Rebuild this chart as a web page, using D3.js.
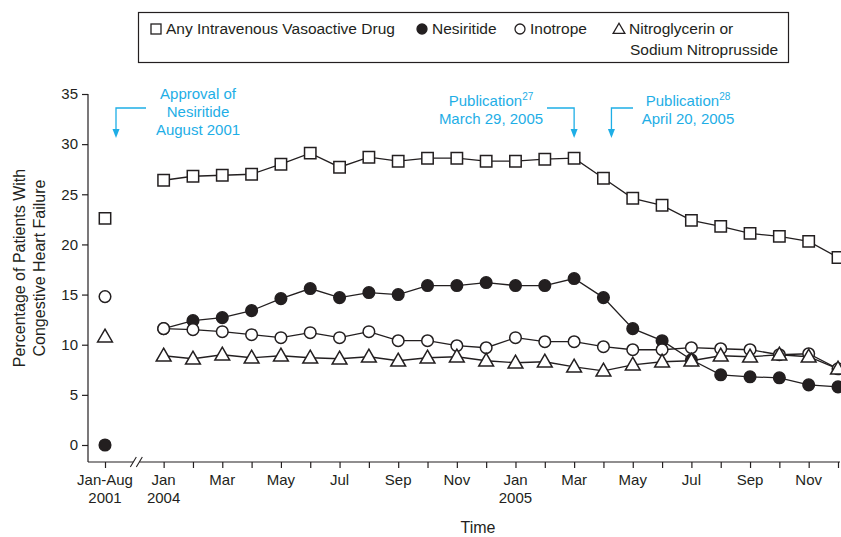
<!DOCTYPE html>
<html>
<head>
<meta charset="utf-8">
<script src="https://cdn.jsdelivr.net/npm/d3@7"></script>
<style>
  body { margin: 0; background: #fff; }
  svg { font-family: "Liberation Sans", Arial, sans-serif; }
</style>
</head>
<body>
<div id="chart"></div>
<script>
// months: index -2 is the Jan-Aug 2001 baseline, 0..23 = Jan 2004 .. Dec 2005
var baseIdx = -2;
var months = d3.range(0, 24);

var tickLabels = ["Jan", "", "Mar", "", "May", "", "Jul", "", "Sep", "", "Nov", "",
                  "Jan", "", "Mar", "", "May", "", "Jul", "", "Sep", "", "Nov", ""];
var yearLabels = {0: "2004", 12: "2005"};

var seriesNames = ["Any Intravenous Vasoactive Drug", "Nesiritide", "Inotrope", "Nitroglycerin or Sodium Nitroprusside"];

// baseline value (Jan-Aug 2001) then monthly values
var anyIV = [22.6,
  26.4, 26.8, 26.9, 27.0, 28.0, 29.1, 27.7, 28.7, 28.3, 28.6, 28.6, 28.3,
  28.3, 28.5, 28.6, 26.6, 24.6, 23.9, 22.4, 21.8, 21.1, 20.8, 20.3, 18.7];
var nesiritide = [0,
  11.6, 12.4, 12.7, 13.4, 14.6, 15.6, 14.7, 15.2, 15.0, 15.9, 15.9, 16.2,
  15.9, 15.9, 16.6, 14.7, 11.6, 10.4, 8.5, 7.0, 6.8, 6.7, 6.0, 5.8];
var inotrope = [14.8,
  11.6, 11.5, 11.3, 11.0, 10.7, 11.2, 10.7, 11.3, 10.4, 10.4, 9.9, 9.7,
  10.7, 10.3, 10.3, 9.8, 9.5, 9.5, 9.7, 9.6, 9.5, 9.0, 9.1, 7.6];
var nitro = [10.8,
  8.9, 8.6, 9.0, 8.7, 8.9, 8.7, 8.6, 8.8, 8.4, 8.7, 8.8, 8.4,
  8.2, 8.3, 7.8, 7.4, 8.0, 8.3, 8.4, 8.9, 8.8, 9.0, 8.8, 7.6];

var yTicks = [0, 5, 10, 15, 20, 25, 30, 35];

var w = 841, h = 537;
var blue = "#1eaee6";

var svg = d3.select("#chart").append("svg")
  .attr("width", w)
  .attr("height", h);

var x = d3.scaleLinear().domain([baseIdx, 23]).range([105, 838]);
var y = d3.scaleLinear().domain([0, 35]).range([445, 94]);
var axisY = 462, axisX = 88;

// y axis
var yAxis = svg.append("g")
  .attr("transform", "translate(" + axisX + ",0)")
  .call(d3.axisLeft(y).tickValues(yTicks).tickSize(6).tickSizeOuter(0).tickPadding(4));
yAxis.select(".domain").remove();
yAxis.selectAll("line").attr("stroke", "#231f20").attr("stroke-width", 1.2);
yAxis.selectAll("text").attr("font-size", 15).attr("fill", "#231f20")
  .attr("font-family", "Liberation Sans, Arial, sans-serif");
svg.append("line")
  .attr("x1", axisX).attr("x2", axisX)
  .attr("y1", y(35)).attr("y2", axisY)
  .attr("stroke", "#231f20").attr("stroke-width", 1.2);

// x axis
var xAxis = svg.append("g")
  .attr("transform", "translate(0," + axisY + ")")
  .call(d3.axisBottom(x).tickValues([baseIdx].concat(months)).tickSize(6).tickSizeOuter(0).tickFormat(""));
xAxis.select(".domain").remove();
xAxis.selectAll("line").attr("stroke", "#231f20").attr("stroke-width", 1.2);
svg.append("line")
  .attr("x1", axisX).attr("x2", 840)
  .attr("y1", axisY).attr("y2", axisY)
  .attr("stroke", "#231f20").attr("stroke-width", 1.2);

// axis break
var bx = (x(baseIdx) + x(0)) / 2 + 3;
svg.append("rect").attr("x", bx - 4).attr("y", axisY - 2).attr("width", 6).attr("height", 4).attr("fill", "#fff");
[-3, 3].forEach(function(o) {
  svg.append("line")
    .attr("x1", bx + o - 4).attr("y1", axisY + 5)
    .attr("x2", bx + o + 2).attr("y2", axisY - 5)
    .attr("stroke", "#231f20").attr("stroke-width", 1.1);
});

// x tick labels
var xl = svg.append("g").attr("font-size", 15).attr("fill", "#231f20").attr("text-anchor", "middle");
xl.append("text").attr("x", x(baseIdx)).attr("y", axisY + 23).text("Jan-Aug");
xl.append("text").attr("x", x(baseIdx)).attr("y", axisY + 41).text("2001");
months.forEach(function(m) {
  if (tickLabels[m]) xl.append("text").attr("x", x(m)).attr("y", axisY + 23).text(tickLabels[m]);
  if (yearLabels[m]) xl.append("text").attr("x", x(m)).attr("y", axisY + 41).text(yearLabels[m]);
});

// axis titles
svg.append("text").attr("x", 478).attr("y", 533).attr("text-anchor", "middle")
  .attr("font-size", 16).attr("fill", "#231f20").text("Time");
var yt = svg.append("text").attr("transform", "translate(0,268) rotate(-90)")
  .attr("text-anchor", "middle").attr("font-size", 16).attr("fill", "#231f20");
yt.append("tspan").attr("x", 0).attr("y", 25).text("Percentage of Patients With");
yt.append("tspan").attr("x", 0).attr("y", 45).text("Congestive Heart Failure");

// annotations
function annot(lines, tx, ty, ax, hx) {
  var t = svg.append("text").attr("text-anchor", "middle").attr("font-size", 15).attr("fill", blue);
  lines.forEach(function(l, i) {
    var ts = t.append("tspan").attr("x", tx).attr("y", ty + i * 18);
    ts.text(l[0]);
    if (l[1]) ts.append("tspan").attr("dy", -6).attr("font-size", 10).text(l[1]);
  });
  svg.append("path")
    .attr("d", "M" + hx + ",108H" + ax + "V132")
    .attr("fill", "none").attr("stroke", blue).attr("stroke-width", 1.3);
  svg.append("path")
    .attr("d", "M" + (ax - 3.5) + ",129L" + (ax + 3.5) + ",129L" + ax + ",138Z")
    .attr("fill", blue);
}
annot([["Approval of"], ["Nesiritide"], ["August 2001"]], 198, 99, 116, 146);
annot([["Publication", "27"], ["March 29, 2005"]], 491, 106, x(14), 547);
annot([["Publication", "28"], ["April 20, 2005"]], 688, 106, x(15) + 8, 633);

// series
var symSquare = d3.symbol().type(d3.symbolSquare).size(130);
var symTri = d3.symbol().type(d3.symbolTriangle).size(95);
var series = [
  {vals: anyIV, shape: "square", fill: "#fff"},
  {vals: nesiritide, shape: "circle", fill: "#231f20"},
  {vals: inotrope, shape: "circle", fill: "#fff"},
  {vals: nitro, shape: "triangle", fill: "#fff"}
];

var line = d3.line().x(function(d) { return x(d.i); }).y(function(d) { return y(d.v); });

series.forEach(function(s) {
  var pts = s.vals.map(function(v, k) { return {i: k === 0 ? baseIdx : k - 1, v: v}; });
  svg.append("path")
    .datum(pts.slice(1))
    .attr("d", line)
    .attr("fill", "none").attr("stroke", "#231f20").attr("stroke-width", 1.3);
});

series.forEach(function(s) {
  var pts = s.vals.map(function(v, k) { return {i: k === 0 ? baseIdx : k - 1, v: v}; });
  var g = svg.append("g");
  pts.forEach(function(p) {
    var cx = x(p.i), cy = y(p.v);
    if (s.shape === "circle") {
      g.append("circle").attr("cx", cx).attr("cy", cy).attr("r", 5.8)
        .attr("fill", s.fill).attr("stroke", "#231f20").attr("stroke-width", 1.5);
    } else if (s.shape === "square") {
      g.append("path").attr("d", symSquare()).attr("transform", "translate(" + cx + "," + cy + ")")
        .attr("fill", s.fill).attr("stroke", "#231f20").attr("stroke-width", 1.5);
    } else {
      g.append("path").attr("d", symTri()).attr("transform", "translate(" + cx + "," + (cy + 1) + ")")
        .attr("fill", s.fill).attr("stroke", "#231f20").attr("stroke-width", 1.5);
    }
  });
});

// legend
var lg = svg.append("g");
lg.append("rect").attr("x", 138.5).attr("y", 12.5).attr("width", 650).attr("height", 50)
  .attr("fill", "#fff").attr("stroke", "#231f20").attr("stroke-width", 1.2);
var legItems = [
  {x: 156, shape: "square", fill: "#fff", lines: [seriesNames[0]]},
  {x: 422, shape: "circle", fill: "#231f20", lines: [seriesNames[1]]},
  {x: 520, shape: "circle", fill: "#fff", lines: [seriesNames[2]]},
  {x: 619, shape: "triangle", fill: "#fff", lines: ["Nitroglycerin or", "Sodium Nitroprusside"]}
];
legItems.forEach(function(it) {
  var cy = 29;
  if (it.shape === "square") {
    lg.append("rect").attr("x", it.x - 5).attr("y", cy - 5).attr("width", 10).attr("height", 10)
      .attr("fill", it.fill).attr("stroke", "#231f20").attr("stroke-width", 1.3);
  } else if (it.shape === "circle") {
    lg.append("circle").attr("cx", it.x).attr("cy", cy).attr("r", 5)
      .attr("fill", it.fill).attr("stroke", "#231f20").attr("stroke-width", 1.3);
  } else {
    lg.append("path").attr("d", d3.symbol().type(d3.symbolTriangle).size(60)())
      .attr("transform", "translate(" + it.x + "," + (cy + 1) + ")")
      .attr("fill", it.fill).attr("stroke", "#231f20").attr("stroke-width", 1.3);
  }
  it.lines.forEach(function(l, i) {
    lg.append("text").attr("x", it.x + (i ? 11 : 10)).attr("y", 34 + i * 21)
      .attr("font-size", 15.5).attr("fill", "#231f20").text(l);
  });
});
</script>
</body>
</html>
